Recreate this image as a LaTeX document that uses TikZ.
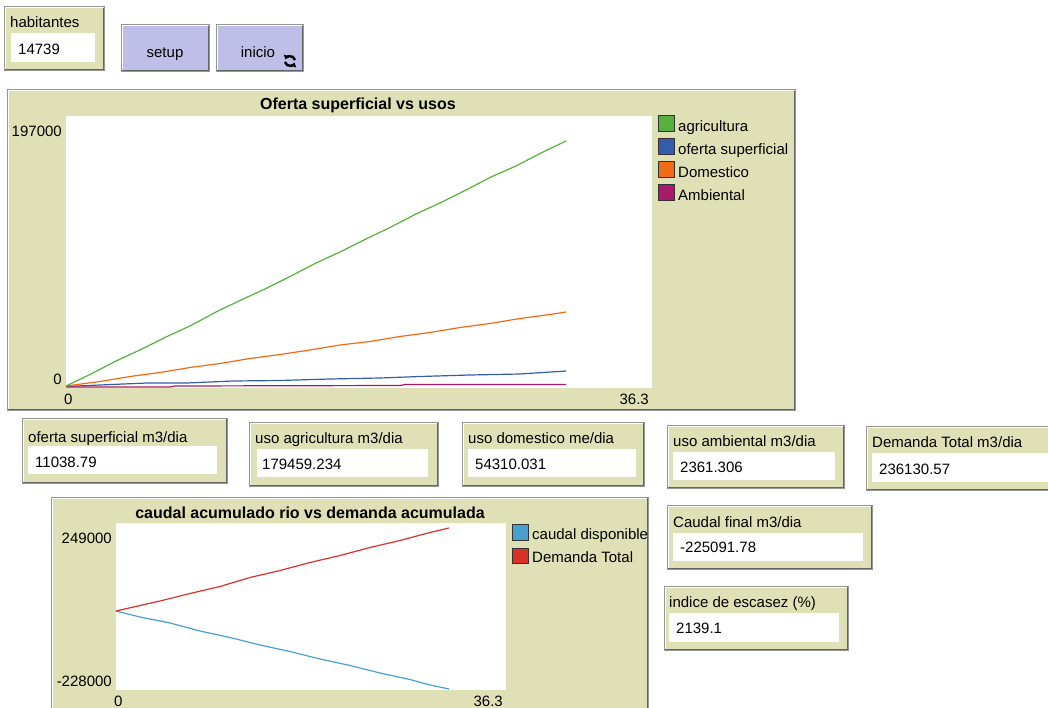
\documentclass[tikz,border=0pt]{standalone}
\usepackage{fontspec}
\setmainfont{Liberation Sans}
\usetikzlibrary{fit,arrows.meta}
\definecolor{panel}{RGB}{224,224,182}
\definecolor{btn}{RGB}{190,190,230}
\definecolor{nlgreen}{RGB}{89,176,60}
\definecolor{nlblue}{RGB}{52,93,169}
\definecolor{nlorange}{RGB}{241,106,21}
\definecolor{nlmagenta}{RGB}{167,27,106}
\definecolor{nlred}{RGB}{215,50,41}
\definecolor{nlsky}{RGB}{70,160,205}
\definecolor{framec}{RGB}{150,150,150}
\definecolor{shadec}{RGB}{100,100,100}
\newcommand{\bevelbox}[6]{%
  \node[fit={(#2,#3) (#4,#5)}, inner sep=0pt, fill=#6, draw=framec, line width=1pt] (#1) {};
  \draw[white, line width=1pt] ([shift={(1.5pt,1.5pt)}]#1.south west) |- ([shift={(-1.5pt,-1.5pt)}]#1.north east);
  \draw[shadec, line width=1pt] ([shift={(1.5pt,1.5pt)}]#1.south west) -| ([shift={(-1.5pt,-1.5pt)}]#1.north east);
}
\newcommand{\whitefield}[5]{%
  \node[fit={(#2,#3) (#4,#5)}, inner sep=0pt, fill=white] (#1) {};
}
\tikzset{
  txt/.style={font=\fontsize{15}{18}\selectfont, inner sep=0pt, anchor=base west, text=black},
  txtr/.style={txt, anchor=base east},
  txtc/.style={txt, anchor=base},
  ttl/.style={font=\fontsize{16}{18}\selectfont\bfseries, inner sep=0pt, anchor=base, text=black},
  legsq/.style={draw=black!80, line width=1pt},
  pline/.style={line width=1.2pt, line join=round}
}
\begin{document}
\begin{tikzpicture}[x=1pt,y=-1pt]
\clip (0,0) rectangle (1048,708);
\fill[white] (0,0) rectangle (1048,708);

% habitantes monitor
\bevelbox{habbox}{4}{7}{104}{71}{panel}
\whitefield{habval}{11}{33}{95}{62}
\node[txt] (habl) at (10,28) {habitantes};
\node[txt] (habv) at (18,55) {14739};

% buttons
\bevelbox{setupbtn}{121}{25}{209}{72}{btn}
\node[txtc] (setupl) at (165,58) {setup};
\bevelbox{iniciobtn}{216}{25}{303}{72}{btn}
\node[txtc] (iniciol) at (258,58) {inicio};
\coordinate (icon) at (290,61);
\draw[line width=2.4pt, -{Triangle[length=4pt,width=6pt]}] ([shift={(5pt,1pt)}]icon) arc[start angle=12, end angle=160, radius=5pt];
\draw[line width=2.4pt, -{Triangle[length=4pt,width=6pt]}] ([shift={(-5pt,-1pt)}]icon) arc[start angle=192, end angle=340, radius=5pt];

% plot 1
\bevelbox{plotA}{7}{90}{795}{410}{panel}
\whitefield{plotAarea}{66}{116}{652}{388}
\node[ttl] (plotAt) at (358,110) {Oferta superficial vs usos};
\node[txtr] (pAy1) at (62,137) {197000};
\node[txtr] (pAy0) at (62,384) {0};
\node[txt] (pAx0) at (64,404) {0};
\node[txtr] (pAx1) at (649,404) {36.3};
\draw[pline, nlblue] plot coordinates {(66,386.5) (100,385) (147,383) (187,383) (233,381) (280,380.5) (330,379) (380,378) (420,376.5) (470,375) (520,374) (566,371)};
\draw[pline, nlmagenta] plot coordinates {(66,387) (170,387) (175,386) (400,385.5) (405,384.5) (566,384.5)};
\draw[pline, nlorange] plot coordinates {(66,386) (100,381.5) (130,376.5) (160,372.5) (190,367.5) (220,363.5) (250,358.5) (280,354.5) (310,350) (340,345) (370,341.5) (400,336.5) (430,332.5) (460,327.5) (490,323.5) (520,318.5) (550,314.5) (566,312)};
\draw[pline, nlgreen] plot coordinates {(66,386) (91,374) (116,361) (141,349.5) (166,337) (191,325.5) (216,312) (241,300) (266,288.5) (291,276) (316,263) (341,251.5) (366,239) (391,227) (416,214) (441,202.5) (466,190) (491,177) (516,166) (541,153) (566,141)};
\node[fit={(658,116) (674,132)}, inner sep=0pt, legsq, fill=nlgreen] (lgA1) {};
\node[fit={(658,139) (674,155)}, inner sep=0pt, legsq, fill=nlblue] (lgA2) {};
\node[fit={(658,162) (674,178)}, inner sep=0pt, legsq, fill=nlorange] (lgA3) {};
\node[fit={(658,185) (674,201)}, inner sep=0pt, legsq, fill=nlmagenta] (lgA4) {};
\node[txt] (lgA1t) at (678,132) {agricultura};
\node[txt] (lgA2t) at (678,155) {oferta superficial};
\node[txt] (lgA3t) at (678,178) {Domestico};
\node[txt] (lgA4t) at (678,201) {Ambiental};

% monitors
\bevelbox{m1}{22}{418}{227}{483}{panel}
\whitefield{m1f}{28}{446}{217}{474}
\node[txt] (m1l) at (28,442) {oferta superficial m3/dia};
\node[txt] (m1v) at (35,467) {11038.79};

\bevelbox{m2}{249}{422}{438}{486}{panel}
\whitefield{m2f}{257}{449}{428}{477}
\node[txt] (m2l) at (255,443) {uso agricultura m3/dia};
\node[txt] (m2v) at (262,469) {179459.234};

\bevelbox{m3}{462}{422}{644}{486}{panel}
\whitefield{m3f}{468}{449}{636}{477}
\node[txt] (m3l) at (468,443) {uso domestico me/dia};
\node[txt] (m3v) at (475,469) {54310.031};

\bevelbox{m4}{667}{425}{844}{488}{panel}
\whitefield{m4f}{673}{452}{835}{480}
\node[txt] (m4l) at (673,446) {uso ambiental m3/dia};
\node[txt] (m4v) at (680,472) {2361.306};

\bevelbox{m5}{866}{426}{1060}{490}{panel}
\whitefield{m5f}{872}{453}{1060}{482}
\node[txt] (m5l) at (872,447) {Demanda Total m3/dia};
\node[txt] (m5v) at (879,474) {236130.57};

\bevelbox{m6}{667}{505}{872}{569}{panel}
\whitefield{m6f}{673}{533}{863}{561}
\node[txt] (m6l) at (673,527) {Caudal final m3/dia};
\node[txt] (m6v) at (680,552) {-225091.78};

\bevelbox{m7}{664}{586}{848}{650}{panel}
\whitefield{m7f}{669}{613}{839}{642}
\node[txt] (m7l) at (669,607) {indice de escasez (\%)};
\node[txt] (m7v) at (676,633) {2139.1};

% plot 2
\bevelbox{plotB}{51}{497}{648}{720}{panel}
\whitefield{plotBarea}{116}{523}{506}{690}
\node[ttl] (plotBt) at (310,518) {caudal acumulado rio vs demanda acumulada};
\node[txtr] (pBy1) at (112,543) {249000};
\node[txtr] (pBy0) at (112,686) {-228000};
\node[txt] (pBx0) at (114,706) {0};
\node[txtr] (pBx1) at (503,706) {36.3};
\draw[pline, nlsky] plot coordinates {(116,611) (140,617) (170,623) (200,631) (230,637.5) (260,645) (290,651.5) (320,659) (350,665.5) (380,673) (410,679.5) (430,685) (449,689)};
\draw[pline, nlred] plot coordinates {(116,611) (140,605.5) (160,601) (190,593.5) (220,586.5) (250,577.5) (280,570.5) (310,562.5) (340,555.5) (370,547.5) (400,540.5) (430,532.5) (449,528)};
\node[fit={(512,524) (528,540)}, inner sep=0pt, legsq, fill=nlsky] (lgB1) {};
\node[fit={(512,548) (528,563)}, inner sep=0pt, legsq, fill=nlred] (lgB2) {};
\node[txt] (lgB1t) at (532,539) {caudal disponible};
\node[txt] (lgB2t) at (532,562) {Demanda Total};
\end{tikzpicture}
\end{document}
